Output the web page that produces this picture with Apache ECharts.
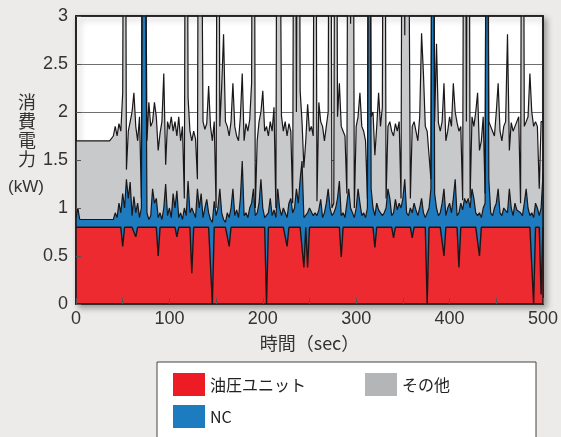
<!DOCTYPE html>
<html>
<head>
<meta charset="utf-8">
<script src="https://cdn.jsdelivr.net/npm/echarts@6/dist/echarts.min.js"></script>
<style>
html,body{margin:0;padding:0;background:#ecebe9;}
#chart{width:561px;height:437px;}
</style>
</head>
<body>
<div id="chart"></div>
<script>
// Sampled every 2 seconds, t = 0 ... 500
// Top edge of the red area (hydraulic unit)
const hydraulicUnit = [
.8,.8,.8,.8,.8,.8,.8,.8,.8,.8,
.8,.8,.8,.8,.8,.8,.8,.8,.8,.8,
.8,.8,.8,.8,.8,.6,.8,.8,.8,.8,
.8,.8,.7,.8,.8,.8,.8,.8,.8,.8,
.8,.8,.8,.8,.5,.8,.8,.8,.8,.8,
.8,.8,.8,.8,.7,.8,.8,.8,.8,.8,
.8,.8,.32,.8,.8,.8,.8,.8,.8,.8,
.8,.8,.8,0,.8,.8,.8,.8,.8,.8,
.8,.8,.6,.8,.8,.8,.8,.8,.8,.8,
.8,.8,.8,.8,.8,.8,.8,.8,.8,.8,
.8,.8,0,.8,.8,.8,.8,.8,.8,.8,
.8,.8,.8,.6,.8,.8,.8,.8,.8,.8,
.8,.8,.38,.8,.38,.8,.8,.8,.8,.8,
.8,.8,.8,.8,.8,.8,.8,.8,.8,.8,
.8,.8,.49,.8,.8,.8,.8,.8,.8,.8,
.8,.8,.8,.8,.8,.8,.8,.8,.8,.8,
.59,.8,.8,.8,.8,.8,.8,.8,.8,.8,
.69,.8,.8,.8,.8,.8,.8,.8,.8,.8,
.69,.8,.8,.8,.8,.8,.8,.8,0,.8,
.8,.8,.8,.8,.8,.8,.8,.5,.8,.8,
.8,.8,.8,.8,.8,.38,.8,.8,.8,.8,
.8,.8,.8,.8,.8,.8,.5,.8,.8,.8,
.8,.8,.8,.8,.8,.8,.8,.8,.8,.8,
.8,.8,.8,.8,.8,.8,.8,.8,.8,.8,
.8,.8,.8,.8,.8,0,.8,.8,.8,.1,
.8
];
// Top edge of the blue area (hydraulic unit + NC)
const hydraulicPlusNC = [
.9,1.0,.88,.88,.88,.88,.88,.88,.88,.88,
.88,.88,.88,.88,.88,.88,.88,.88,.88,.88,
.88,.95,.9,1.05,.95,1.15,1.0,1.3,1.1,1.27,
.92,1.12,.95,1.05,.9,1.0,7.8,7.8,.95,.88,
.92,1.2,1.05,1.1,.9,.95,.88,1.0,1.25,.92,
1.0,.9,1.15,1.0,1.18,.9,.95,.88,1.0,.92,
1.28,.95,1.0,.98,.9,1.2,1.0,1.15,.9,1.0,
1.09,.95,.88,.85,1.07,.92,1.0,1.2,.95,.88,
.85,.95,.9,1.0,1.2,.92,.98,.9,1.1,1.49,
.92,.95,.9,1.0,1.05,1.2,.92,.95,1.05,1.3,
1.0,.9,.88,.95,1.1,.92,.98,.9,1.2,1.0,
.92,1.0,.95,.9,1.05,1.1,.95,1.0,1.2,1.05,
1.3,1.49,.9,.92,.95,1.0,1.0,.92,.95,.92,
.98,1.09,.9,.95,1.05,1.2,1.0,.92,.95,1.0,
1.1,1.28,.92,.95,.9,1.05,1.2,1.0,.95,.9,
1.0,1.2,1.05,.92,.95,.9,1.0,7.8,1.2,1.0,
.92,1.05,.98,.95,.92,.95,1.0,1.2,1.1,.92,
.95,1.09,.98,1.05,1.0,1.1,1.3,.95,.92,1.0,
.95,1.05,.98,.92,1.0,1.1,.95,.9,.92,1.0,
1.2,7.8,1.15,1.0,.92,.95,1.05,1.2,.92,1.0,
1.05,.95,1.1,1.3,.92,.95,1.05,.98,1.1,1.05,
1.1,1.0,1.2,1.1,.95,.92,.95,.9,1.0,1.05,
7.8,1.3,.95,.92,1.0,1.05,1.2,.95,.92,1.0,
1.0,.95,1.2,1.0,.92,1.05,.98,1.0,.95,.92,
1.05,1.2,1.0,.92,.95,.9,1.05,1.0,.92,1.0,
1.35
];
// Top edge of the grey area (total power)
const totalPower = [
1.7,1.7,1.7,1.7,1.7,1.7,1.7,1.7,1.7,1.7,
1.7,1.7,1.7,1.7,1.7,1.7,1.7,1.7,1.7,1.7,
1.75,1.85,1.75,1.88,1.8,2.2,8,1.4,1.8,1.9,
2.0,2.2,1.85,1.7,1.95,1.1,8,8,1.7,2.1,
1.85,1.9,2.1,1.95,1.6,1.78,1.9,2.4,1.45,1.9,
1.82,1.95,1.8,1.9,1.75,1.95,1.7,1.85,1.1,8,
2.15,1.8,1.7,1.8,1.72,1.3,8,8,1.9,1.82,
1.88,2.27,1.85,1.7,1.9,1.0,8,1.85,2.27,2.81,
1.9,1.85,1.75,1.9,2.3,1.85,1.75,1.7,1.95,2.4,
1.7,1.88,1.8,1.92,2.3,8,1.0,1.7,1.9,2.0,
2.22,1.8,1.85,1.75,1.9,1.8,2.05,1.0,8,8,
1.96,1.8,1.9,1.75,1.88,1.8,1.05,8,2.0,8,
2.22,1.9,1.42,1.7,2.08,1.8,1.85,1.75,8,1.07,
2.1,1.9,1.85,1.7,1.85,2.0,8,1.0,1.05,8,
1.95,2.3,1.85,1.8,1.75,1.15,8,2.92,8,1.0,
1.85,1.95,2.2,1.85,1.8,1.7,1.1,8,1.95,2.0,
1.55,1.85,2.2,1.85,2.05,8,1.1,1.85,1.9,1.8,
1.75,1.88,1.8,1.9,1.1,8,2.8,8,8,1.1,
1.85,1.9,1.8,1.7,1.95,2.82,2.4,1.85,1.8,1.8,
1.3,8,1.9,2.71,1.89,1.8,1.9,2.3,1.7,1.8,
1.95,1.85,2.3,2.0,1.89,1.8,1.85,1.08,8,1.9,
8,1.1,1.95,1.85,2.0,2.2,1.6,1.7,1.95,1.15,
8,1.9,1.89,1.8,1.75,2.0,2.3,1.8,1.7,1.85,
1.9,2.81,1.6,1.89,1.8,1.85,1.9,1.95,1.05,8,
1.85,1.9,1.95,2.4,2.0,1.85,1.9,1.85,1.2,1.9,
1.9
];
const seconds = hydraulicUnit.map((_, i) => i * 2);
const seriesNames = ['油圧ユニット', 'NC', 'その他'];
const xTickLabels = [0, 100, 200, 300, 400, 500];
const yTickLabels = [0, 0.5, 1, 1.5, 2, 2.5, 3];

const RED = '#ec2a30', BLUE = '#1f7bc0', GREY = '#c8c9cb';
const LINE = '#1a1718';
const numFont = 'Liberation Sans, Arial, sans-serif';
const jpFont = '"Noto Sans CJK JP", sans-serif';

function pairs(arr) { return arr.map((v, i) => [seconds[i], v]); }
function areaSeries(name, data, fill, lw) {
  return {
    name: name, type: 'line', data: pairs(data),
    xAxisIndex: 0, yAxisIndex: 0,
    symbol: 'none', smooth: false, clip: true,
    color: fill,
    itemStyle: { color: fill },
    lineStyle: { color: LINE, width: lw },
    areaStyle: { color: fill, opacity: 1 },
    emphasis: { disabled: true },
    animation: false
  };
}
const legendText = { color: '#222', fontSize: 16, fontFamily: jpFont };

const chart = echarts.init(document.getElementById('chart'), null, { renderer: 'canvas' });
chart.setOption({
  backgroundColor: '#ecebe9',
  animation: false,
  grid: {
    left: 76, right: 17, top: 16, bottom: 133,
    show: true, backgroundColor: '#ffffff',
    borderColor: LINE, borderWidth: 1.5,
    shadowColor: 'rgba(0,0,0,0.35)', shadowBlur: 6, shadowOffsetX: 3, shadowOffsetY: 3
  },
  xAxis: [
    {
      type: 'value', position: 'bottom', min: 0, max: 500, interval: 50, z: 10,
      axisLine: { show: true, lineStyle: { color: LINE, width: 1.5 } },
      axisTick: { show: true, inside: true, length: 6, lineStyle: { color: '#555', width: 1 } },
      axisLabel: {
        show: true, margin: 6, color: '#333', fontSize: 18, fontFamily: numFont,
        formatter: v => (xTickLabels.indexOf(v) >= 0 ? String(v) : '')
      },
      splitLine: { show: false },
      name: '時間（sec）', nameLocation: 'middle', nameGap: 30,
      nameTextStyle: { color: '#333', fontSize: 18, fontFamily: jpFont }
    },
    {
      type: 'value', position: 'top', min: 0, max: 500, z: 10,
      axisLine: { show: true, onZero: false, lineStyle: { color: LINE, width: 1.5 } },
      axisTick: { show: false }, axisLabel: { show: false }, splitLine: { show: false }
    }
  ],
  yAxis: [
    {
      type: 'value', position: 'left', min: 0, max: 3, interval: 0.5,
      axisLine: { show: false }, axisTick: { show: false }, axisLabel: { show: false },
      splitLine: { show: true, lineStyle: { color: '#6d6e70', width: 1.2 } }
    },
    {
      type: 'value', position: 'left', min: 0, max: 3, interval: 0.5, z: 10,
      axisLine: { show: true, onZero: false, lineStyle: { color: LINE, width: 1.5 } },
      axisTick: { show: true, inside: true, length: 5, lineStyle: { color: '#555', width: 1 } },
      axisLabel: {
        show: true, margin: 8, color: '#333', fontSize: 18, fontFamily: numFont,
        formatter: v => (yTickLabels.indexOf(v) >= 0 ? String(v) : '')
      },
      splitLine: { show: false }
    },
    {
      type: 'value', position: 'right', min: 0, max: 3, interval: 0.5, z: 10,
      axisLine: { show: true, onZero: false, lineStyle: { color: LINE, width: 1.5 } },
      axisTick: { show: false }, axisLabel: { show: false }, splitLine: { show: false }
    }
  ],
  legend: [
    {
      orient: 'horizontal', left: 157, top: 362, z: 2,
      padding: [11, 86, 60, 16],
      backgroundColor: '#ffffff', borderColor: '#444', borderWidth: 1,
      itemWidth: 32, itemHeight: 23, itemGap: 59, icon: 'rect',
      selectedMode: false,
      textStyle: legendText,
      data: [
        { name: '油圧ユニット', itemStyle: { color: '#ed1c24', borderWidth: 0 } },
        { name: 'その他', itemStyle: { color: '#b4b5b7', borderWidth: 0 } }
      ]
    },
    {
      orient: 'horizontal', left: 173, top: 405, z: 5, padding: 0,
      itemWidth: 32, itemHeight: 23, icon: 'rect',
      selectedMode: false,
      textStyle: legendText,
      data: [
        { name: 'NC', itemStyle: { color: '#1d7bc0', borderWidth: 0 } }
      ]
    }
  ],
  graphic: [
    {
      type: 'text', left: 18, top: 93,
      style: { text: '消\n費\n電\n力', fontSize: 18, lineHeight: 19, fill: '#333', fontFamily: jpFont }
    },
    {
      type: 'text', left: 8, top: 179,
      style: { text: '(kW)', fontSize: 17, fill: '#333', fontFamily: numFont }
    }
  ],
  series: [
    areaSeries(seriesNames[2], totalPower, GREY, 1.2),
    areaSeries(seriesNames[1], hydraulicPlusNC, BLUE, 1.2),
    areaSeries(seriesNames[0], hydraulicUnit, RED, 1.4)
  ]
});
</script>
</body>
</html>
